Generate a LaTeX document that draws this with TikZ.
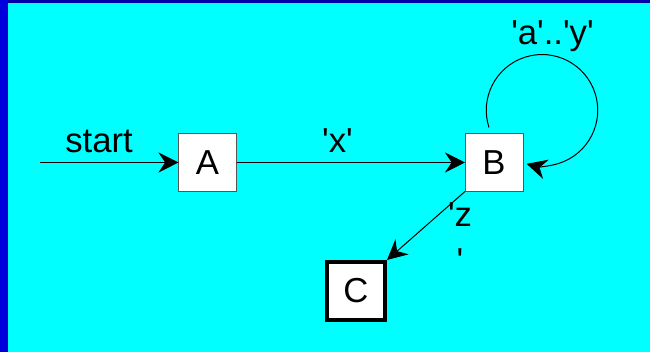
\documentclass[tikz,border=0pt]{standalone}
\usepackage{fontspec}
\setmainfont{Liberation Sans}
\usetikzlibrary{arrows.meta,positioning}

\definecolor{fsmcyan}{RGB}{0, 255, 255}
\definecolor{fsmblue}{RGB}{0, 0, 221}
\definecolor{fsmnavy}{RGB}{0, 0, 170}
\definecolor{fsmedge}{RGB}{85, 85, 85}

\newcommand{\fsmfont}{\fontsize{26}{35}\selectfont}
\newcommand{\sq}{\textquotesingle}

\begin{document}
\begin{tikzpicture}[
    x=0.75pt, y=0.75pt,
    state/.style={minimum size=43.5pt, inner sep=0pt, outer sep=0pt,
                  fill=white, draw=fsmedge, line width=0.75pt, font=\fsmfont},
    finalstate/.style={state, draw=black, line width=3pt, outer sep=1.5pt},
    lbl/.style={font=\fsmfont, inner sep=0pt},
    arr/.style={line width=0.75pt,
                -{Stealth[length=15pt, width=15pt, inset=5pt]}},
]

% ================================================================
% BACKGROUND (frame size fixed)
% ================================================================
\useasboundingbox (0,0) rectangle (650,352);
\fill[fsmcyan] (0,0) rectangle (650,352);
\fill[fsmnavy] (0,349) rectangle (650,352);
\fill[fsmblue] (0,0) rectangle (8,352);

% ================================================================
% STATES
% ================================================================
\def\sy{189.5} % row of A and B

\coordinate (start) at (40,\sy);
\node[state] (A) at (207.5,\sy) {A};
\node[state] (B) at (494,\sy) {B};
\node[finalstate] (C) at (356,61) {C};

% ================================================================
% TRANSITIONS
% ================================================================
\draw[arr] (start) -- (A.west);
\draw[arr] (A.east) -- (B.west);

% self loop on B, drawn as an almost full circle
\draw[arr] ([shift={(-5,6)}]B.north)
  arc[start angle=198, end angle=-106, radius=41.8pt];

\draw[arr] (B.south west) -- (C.north east);

% ================================================================
% LABELS
% ================================================================
\node[lbl, anchor=base] (startlbl) at (99,199) {start};
\node[lbl, anchor=base] (xlbl) at (337.5,199) {\sq x\sq};
\node[lbl, anchor=base] (aylbl) at (552.5,307) {\sq a\sq..\sq y\sq};
\node[lbl, anchor=north, align=center] (zlbl) at (460,150) {\sq z\\\sq};

\end{tikzpicture}
\end{document}
